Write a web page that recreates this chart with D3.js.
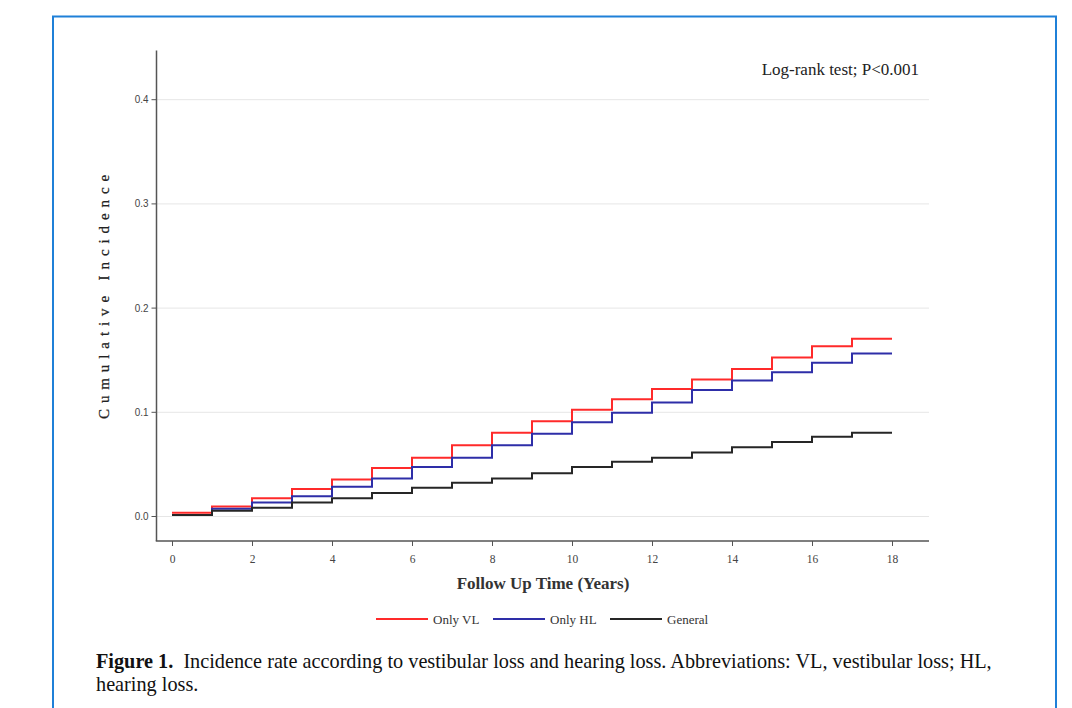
<!DOCTYPE html>
<html><head><meta charset="utf-8">
<script src="https://cdn.jsdelivr.net/npm/d3@7/dist/d3.min.js"></script>
<style>html,body{margin:0;padding:0;background:#fff;}svg{display:block;}</style>
</head><body>
<script>
const years = d3.range(0, 19); // 0..18
const yTicks = [0.0, 0.1, 0.2, 0.3, 0.4];
const xTicks = [0, 2, 4, 6, 8, 10, 12, 14, 16, 18];
const seriesNames = ["Only VL", "Only HL", "General"];
// value on each interval [t, t+1), t = 0..17
const onlyVL  = [0.003,0.009,0.017,0.026,0.035,0.046,0.056,0.068,0.080,0.091,0.102,0.112,0.122,0.131,0.141,0.152,0.163,0.170];
const onlyHL  = [0.001,0.007,0.013,0.019,0.028,0.036,0.047,0.056,0.068,0.079,0.090,0.099,0.109,0.121,0.130,0.138,0.147,0.156];
const general = [0.001,0.005,0.008,0.013,0.017,0.022,0.027,0.032,0.036,0.041,0.047,0.052,0.056,0.061,0.066,0.071,0.076,0.080];
const colors = ["#ff2a2a", "#2e2ea8", "#262626"];

const W = 1072, H = 708;
const svg = d3.select("body").append("svg").attr("width", W).attr("height", H);

// frame
svg.append("path").attr("d", "M53,708 V16.5 H1056 V708")
  .attr("fill", "none").attr("stroke", "#1f80d8").attr("stroke-width", 2);

const x = d3.scaleLinear().domain([0, 18]).range([172, 892]);
const y = d3.scaleLinear().domain([0, 0.4]).range([516, 99.2]);
const xLeft = 156.5, xRight = 929, yBottom = 541, yTop = 50.5;

// grid
svg.append("g").selectAll("line").data(yTicks).join("line")
  .attr("x1", xLeft).attr("x2", xRight)
  .attr("y1", d => y(d) + 0.5).attr("y2", d => y(d) + 0.5)
  .attr("stroke", "#e6e6e6").attr("stroke-width", 1);

// y axis
const gy = svg.append("g").attr("transform", `translate(${xLeft},0)`)
  .call(d3.axisLeft(y).tickValues(yTicks).tickFormat(d3.format(".1f")).tickSize(5).tickPadding(4));
gy.select(".domain").remove();
gy.selectAll(".tick line").attr("stroke", "#555");
gy.selectAll(".tick text").attr("font-family", "Liberation Sans, Arial, sans-serif")
  .attr("font-size", 11).attr("fill", "#444").attr("transform", "scale(0.9,1)");
svg.append("line").attr("x1", xLeft).attr("x2", xLeft).attr("y1", yTop).attr("y2", yBottom)
  .attr("stroke", "#555").attr("stroke-width", 1.5);

// x axis
const gx = svg.append("g").attr("transform", `translate(0,${yBottom})`)
  .call(d3.axisBottom(x).tickValues(xTicks).tickSize(5).tickPadding(9));
gx.select(".domain").remove();
gx.selectAll(".tick line").attr("stroke", "#555");
gx.selectAll(".tick text").attr("font-family", "Liberation Serif, serif")
  .attr("font-size", 11.5).attr("fill", "#444");
svg.append("line").attr("x1", xLeft - 0.75).attr("x2", xRight).attr("y1", yBottom).attr("y2", yBottom)
  .attr("stroke", "#555").attr("stroke-width", 1.5);

// curves
const line = d3.line().x(d => x(d[0])).y(d => y(d[1])).curve(d3.curveStepAfter);
[onlyVL, onlyHL, general].forEach((s, i) => {
  const pts = years.map(t => [t, s[Math.min(t, s.length - 1)]]);
  svg.append("path").datum(pts).attr("d", line)
    .attr("fill", "none").attr("stroke", colors[i]).attr("stroke-width", 2);
});

// axis titles
svg.append("text").attr("x", 543).attr("y", 589).attr("text-anchor", "middle")
  .attr("font-family", "Liberation Serif, serif").attr("font-weight", "bold")
  .attr("font-size", 17).attr("fill", "#333").text("Follow Up Time (Years)");
svg.append("text").attr("transform", "translate(109,294) rotate(-90)").attr("text-anchor", "middle")
  .attr("font-family", "Liberation Serif, serif").attr("font-size", 15).attr("letter-spacing", 5.9)
  .attr("fill", "#222").attr("stroke", "#222").attr("stroke-width", 0.25).text("Cumulative Incidence");

// annotation
svg.append("text").attr("x", 919).attr("y", 75).attr("text-anchor", "end")
  .attr("font-family", "Liberation Serif, serif").attr("font-size", 17).attr("fill", "#222")
  .text("Log-rank test; P<0.001");

// legend
const legX = [376, 493, 610];
const leg = svg.append("g");
seriesNames.forEach((n, i) => {
  leg.append("line").attr("x1", legX[i]).attr("x2", legX[i] + 52).attr("y1", 619).attr("y2", 619)
    .attr("stroke", colors[i]).attr("stroke-width", 2);
  leg.append("text").attr("x", legX[i] + 57).attr("y", 623.5)
    .attr("font-family", "Liberation Serif, serif").attr("font-size", 13).attr("fill", "#333").text(n);
});

// caption
const cap = svg.append("text").attr("font-family", "Liberation Serif, serif").attr("font-size", 20.25).attr("fill", "#111");
const l1 = cap.append("tspan").attr("x", 96).attr("y", 668);
l1.append("tspan").attr("font-weight", "bold").text("Figure 1.");
l1.append("tspan").text("\u00a0\u00a0Incidence rate according to vestibular loss and hearing loss. Abbreviations: VL, vestibular loss; HL,");
cap.append("tspan").attr("x", 96).attr("y", 691).text("hearing loss.");
</script>
</body></html>
